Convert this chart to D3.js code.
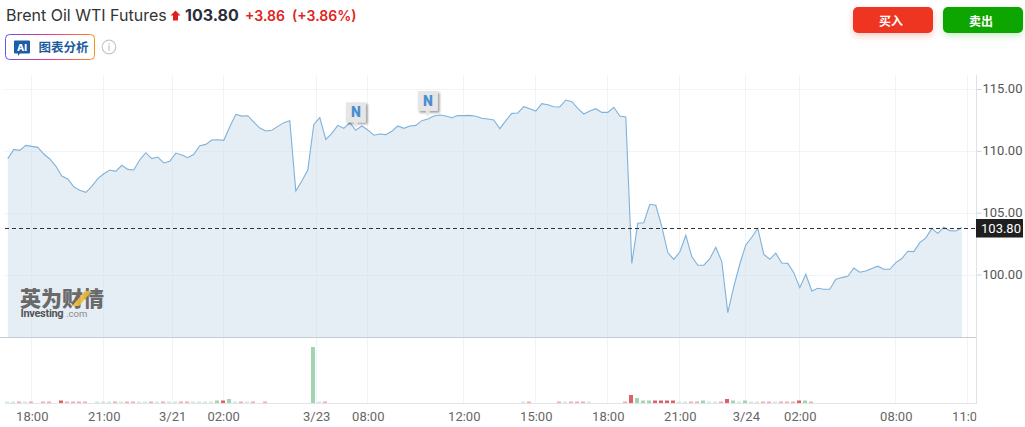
<!DOCTYPE html>
<html><head><meta charset="utf-8">
<script src="https://cdn.jsdelivr.net/npm/d3@7/dist/d3.min.js"></script>
<style>
html,body{margin:0;padding:0;background:#fff;overflow:hidden}
svg{display:block;font-family:Inter,Roboto,sans-serif}
</style></head><body><svg id="c" width="1025" height="427"></svg>
<script>
const prices=[109.37,110.12,110.04,110.44,110.36,110.28,109.74,109.34,108.77,107.96,107.72,107.08,106.81,106.64,107.13,107.75,108.15,108.45,108.34,108.83,108.50,108.45,109.28,109.85,109.37,109.50,109.02,109.15,109.82,109.66,109.45,109.72,110.42,110.52,110.87,110.90,110.85,111.95,112.95,112.81,112.84,112.33,111.84,111.60,111.66,111.98,112.28,112.44,106.75,107.56,108.45,112.14,112.68,110.93,
111.42,112.06,111.82,112.28,111.66,112.01,111.69,111.26,111.36,111.31,111.58,112.01,111.82,112.01,112.06,112.44,112.58,112.82,112.90,112.82,112.68,112.85,112.85,112.87,112.79,112.63,112.58,112.49,111.79,112.44,113.03,113.06,113.57,113.41,113.22,113.82,113.73,113.57,113.55,114.11,113.98,113.44,112.98,113.22,113.41,113.11,113.11,113.52,112.82,112.74,
100.90,104.14,104.19,105.68,105.60,103.87,101.77,101.23,101.82,103.17,101.45,100.75,100.75,101.28,102.20,101.04,96.92,99.02,100.85,102.39,103.01,103.74,101.63,101.23,101.72,100.93,100.90,100.15,98.94,100.02,98.67,98.89,
98.81,98.81,99.62,99.75,99.86,100.53,100.18,100.29,100.48,100.67,100.42,100.42,100.96,101.29,101.88,101.85,102.58,102.96,103.71,103.33,103.82,103.55,103.52,103.80];
// signed volume per bar: positive = red, negative = green, 0 = no bar
const volumes=[-1.5,-1.5,1.5,-1.5,1.5,0,1.5,1.5,0,2.5,1.5,1.5,1.5,1.5,0,-1.5,-1.5,-1.5,1.5,-1.5,1.5,1.5,-1.5,-1.5,1.5,-1.5,1.5,-1.5,
-1.5,1.5,1.5,-1.5,-1.5,-1.5,-1.5,-2.5,2.5,-4,-1.5,1.5,-1.5,1.5,0,1.5,0,0,0,0,0,0,0,-56,-1.5,1.5,
0,0,0,0,0,0,0,0,0,0,0,0,0,0,0,0,0,0,0,0,0,0,0,0,0,0,0,0,0,0,0,0,
-1.5,1.5,0,0,0,0,1.5,-1.5,1.5,1.5,1.5,-1.5,0,0,0,0,0,1.5,8,-5,-2.5,-2.5,2.5,2.5,2.5,2.5,-1.5,-1.5,1.5,1.5,-2.5,-1.5,-1.5,1.5,4,-2.5,-1.5,-2.5,-1.5,-1.5,1.5,1.5,-1.5,1.5,1.5,1.5,2.5,-2.5,1.5,
0,0,0,0,0,0,0,0,0,0,0,0,0,0,0,0,0,0,0,0,0,0,0,0,0];
const priceTicks=[100,105,110,115];
const timeLabels=["18:00","21:00","3/21","02:00","3/23","08:00","12:00","15:00","18:00","21:00","3/24","02:00","08:00","11:00"];
const timeSlots=[4,16,27.4,35.9,51.4,60,76,88,100,112,123,132,148,160];
const newsSlots=[58,70];
const lastPrice=103.80;

const svg=d3.select("#c");
const L=5,R=976,T=75,PB=337.5,VB=403;
const x=d3.scaleLinear().domain([0,159]).range([7.8,7.8+159*6]);
const y=d3.scaleLinear().domain([100,115]).range([274.5,89]);
const v=d3.scaleLinear().domain([0,56]).range([VB,347]);
const defs=svg.append("defs");
defs.append("clipPath").attr("id","cl").append("rect").attr("x",0).attr("y",400).attr("width",R+0.5).attr("height",27);
const g1=defs.append("linearGradient").attr("id","ai").attr("x1",0).attr("x2",1).attr("y1",0).attr("y2",0);
[["0%","#6a4df4"],["50%","#e8398f"],["100%","#ff8a1a"]].forEach(s=>g1.append("stop").attr("offset",s[0]).attr("stop-color",s[1]));
const f=defs.append("filter").attr("id","sh").attr("x","-40%").attr("y","-40%").attr("width","180%").attr("height","180%");
f.append("feDropShadow").attr("dx",1.8).attr("dy",1.8).attr("stdDeviation",1.2).attr("flood-color","#000").attr("flood-opacity",0.38);
const fr=defs.append("filter").attr("id","shr").attr("x","-20%").attr("y","-40%").attr("width","140%").attr("height","200%");
fr.append("feDropShadow").attr("dx",0).attr("dy",3).attr("stdDeviation",3).attr("flood-color","#ee3524").attr("flood-opacity",0.25);
const fg=defs.append("filter").attr("id","shg").attr("x","-20%").attr("y","-40%").attr("width","140%").attr("height","200%");
fg.append("feDropShadow").attr("dx",0).attr("dy",3).attr("stdDeviation",3).attr("flood-color","#0aa500").attr("flood-opacity",0.2);

// grid
const grid=svg.append("g");
grid.selectAll("line.v").data(timeSlots).join("line").attr("class","v").attr("x1",d=>Math.floor(x(d))+.5).attr("x2",d=>Math.floor(x(d))+.5)
 .attr("y1",T).attr("y2",VB).attr("stroke","#f1f3f6");
grid.selectAll("line.h").data(priceTicks).join("line").attr("class","h").attr("x1",L).attr("x2",R)
 .attr("y1",d=>Math.round(y(d))+.5).attr("y2",d=>Math.round(y(d))+.5).attr("stroke","#f1f3f6");

// area + line
svg.append("path").datum(prices).attr("fill","#cfdeec").attr("fill-opacity",.55)
 .attr("d",d3.area().x((d,i)=>x(i)).y0(PB).y1(d=>y(d)));
svg.append("path").datum(prices).attr("fill","none").attr("stroke","#7fb2da").attr("stroke-width",1.1)
 .attr("d",d3.line().x((d,i)=>x(i)).y(d=>y(d)));

// watermark
const wm=svg.append("g");
wm.append("text").attr("x",20).attr("y",305.5).attr("font-size",21).attr("font-weight",900).attr("fill","#6a6a6a")
 .attr("font-family","'Noto Sans CJK SC'").text("英为财情");
wm.append("path").attr("d","M72 306L79 306L92 291L85 291Z").attr("fill","#f0b93a").attr("opacity",.9);
wm.append("text").attr("x",20.5).attr("y",317).attr("font-size",11).attr("font-weight",700).attr("fill","#555")
 .attr("letter-spacing",-.3).attr("font-family","Roboto").text("Investing");
wm.append("text").attr("x",66).attr("y",317).attr("font-size",9.5).attr("fill","#8a8a8a").attr("font-family","Roboto").text(".com");

// panel lines
svg.append("line").attr("x1",0).attr("x2",R).attr("y1",PB).attr("y2",PB).attr("stroke","#c6ccd3");
svg.append("line").attr("x1",5).attr("x2",R).attr("y1",VB+.5).attr("y2",VB+.5).attr("stroke","#e2e4e9").attr("stroke-width",1);

// volume
svg.append("g").selectAll("rect").data(volumes.map((d,i)=>({d,i})).filter(o=>o.d!==0)).join("rect")
 .attr("x",o=>Math.round(x(o.i)-2.5)).attr("width",4)
 .attr("y",o=>v(Math.abs(o.d))).attr("height",o=>VB-v(Math.abs(o.d)))
 .attr("fill",o=>o.d>0?"#e05f63":"#9fd5b0")
 .attr("opacity",o=>Math.abs(o.d)<2?(o.d>0?.5:.45):1);

// price axis
const ay=svg.append("g").attr("transform",`translate(${R+.5},0)`)
 .call(d3.axisRight(y).tickValues(priceTicks).tickFormat(d3.format(".2f")).tickSize(5).tickPadding(1));
ay.select(".domain").remove();
ay.selectAll("line").attr("stroke","#cfd3da");
ay.selectAll("text").attr("font-size",13).attr("fill","#555").attr("font-family","Roboto").attr("transform","translate(0,-0.6)");
svg.append("line").attr("x1",R+.5).attr("x2",R+.5).attr("y1",T).attr("y2",VB+1).attr("stroke","#dfe2e8");

// time axis
const ax=svg.append("g").attr("clip-path","url(#cl)").append("g").attr("transform",`translate(0,${VB+1})`)
 .call(d3.axisBottom(x).tickValues(timeSlots).tickFormat((d,i)=>timeLabels[i]).tickSize(0).tickPadding(8));
ax.select(".domain").remove();
ax.selectAll("text").attr("font-size",13).attr("fill","#666").attr("font-family","Roboto");

// last price
svg.append("line").attr("x1",L).attr("x2",R).attr("y1",Math.round(y(lastPrice))+.5).attr("y2",Math.round(y(lastPrice))+.5)
 .attr("stroke","#333").attr("stroke-dasharray","4,3");
svg.append("rect").attr("x",R).attr("y",y(lastPrice)-8.5).attr("width",47).attr("height",18.5).attr("fill","#1f1f1f");
svg.append("text").attr("x",R+25).attr("y",y(lastPrice)+5).attr("text-anchor","middle").attr("font-size",13)
 .attr("fill","#fff").attr("font-family","Roboto").text(d3.format(".2f")(lastPrice));

// news markers
const nm=svg.append("g").selectAll("g").data(newsSlots).join("g")
 .attr("transform",d=>`translate(${x(d)},${y(prices[d])-8})`);
nm.append("rect").attr("x",-10).attr("y",-20).attr("width",20).attr("height",20).attr("fill","#e6e6e6").attr("filter","url(#sh)");
nm.append("path").attr("d","M-2 0L2 0L1 5L-1 5Z").attr("fill","#e6e6e6");
nm.append("text").attr("y",-5).attr("text-anchor","middle").attr("font-size",14).attr("font-weight",900)
 .attr("fill","#4a8fd0").attr("font-family","Roboto").text("N");

// header
svg.append("text").attr("x",6).attr("y",21).attr("font-size",16).attr("fill","#333").text("Brent Oil WTI Futures");
svg.append("path").attr("d","M175.5 10.5L180.5 15.5L178 15.5L178 20.5L173 20.5L173 15.5L170.5 15.5Z").attr("fill","#e0201a");
svg.append("text").attr("x",185).attr("y",21).attr("font-size",16).attr("font-weight",700).attr("fill","#2a2e39").text("103.80");
svg.append("text").attr("x",245).attr("y",21).attr("font-size",14).attr("font-weight",600).attr("fill","#e0241a").text("+3.86");
svg.append("text").attr("x",292).attr("y",21).attr("font-size",14).attr("font-weight",600).attr("fill","#e0241a").text("(+3.86%)");

// AI button
svg.append("rect").attr("x",5.5).attr("y",34.5).attr("width",89).attr("height",25).attr("rx",4).attr("fill","#fff").attr("stroke","url(#ai)").attr("stroke-width",1);
svg.append("path").attr("d","M15 40.5h14a1 1 0 0 1 1 1v11a1 1 0 0 1 -1 1h-9l-2 2.5v-2.5h-3a1 1 0 0 1 -1 -1v-11a1 1 0 0 1 1 -1z").attr("fill","#1d5ca8");
svg.append("text").attr("x",22).attr("y",51).attr("text-anchor","middle").attr("font-size",9.5).attr("font-weight",800).attr("fill","#fff").text("AI");
svg.append("text").attr("x",38.5).attr("y",51.5).attr("font-size",12.5).attr("font-weight",700).attr("fill","#1f5c9c").attr("font-family","'Noto Sans CJK SC'").text("图表分析");
svg.append("circle").attr("cx",109).attr("cy",47).attr("r",6.8).attr("fill","none").attr("stroke","#c8c8c8").attr("stroke-width",1.2);
svg.append("text").attr("x",109).attr("y",51).attr("text-anchor","middle").attr("font-size",10).attr("fill","#b5b5b5").text("i");

// buttons
[[853,"#ee3524","买入","url(#shr)"],[943,"#0aa500","卖出","url(#shg)"]].forEach(b=>{
 svg.append("rect").attr("x",b[0]).attr("y",7).attr("width",80).attr("height",26).attr("rx",5).attr("fill",b[1]).attr("filter",b[3]);
 svg.append("text").attr("x",b[0]+38).attr("y",25.5).attr("text-anchor","middle").attr("font-size",12).attr("font-weight",700)
  .attr("fill","#fff").attr("font-family","'Noto Sans CJK SC'").text(b[2]);
});
</script></body></html>
